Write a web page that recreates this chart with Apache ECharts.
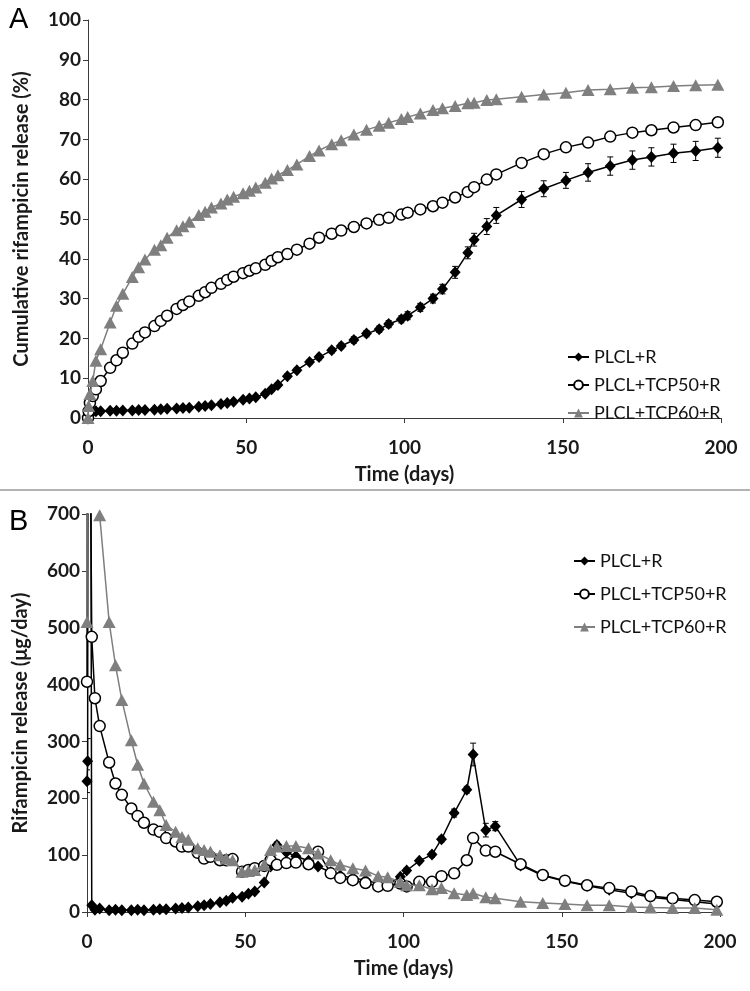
<!DOCTYPE html>
<html><head><meta charset="utf-8">
<script src="https://cdn.jsdelivr.net/npm/echarts/dist/echarts.min.js"></script>
<style>html,body{margin:0;padding:0;background:#fff}#c{width:750px;height:991px}</style>
</head><body><div id="c"></div>
<script>
// ---- data ----
const seriesNames = ['PLCL+R', 'PLCL+TCP50+R', 'PLCL+TCP60+R'];
const days = [0, 0.2, 0.6, 1.5, 2.5, 4, 7, 9, 11, 14, 16, 18, 21, 23, 25, 28, 30, 32, 35, 37, 39, 42, 44, 46, 49, 51,
  53, 56, 58, 60, 63, 66, 70, 73, 77, 80, 84, 88, 92, 95, 99, 101, 105, 109, 112, 116, 120, 122, 126, 129,
  137, 144, 151, 158, 165, 172, 178, 185, 192, 199];

// Panel A: cumulative release (%)
const cumPLCL = [0, 1.0, 1.5, 1.6, 1.7, 1.7, 1.8, 1.8, 1.9, 1.9, 2.0, 2.0, 2.1, 2.2, 2.3, 2.4, 2.5, 2.6, 2.8, 3.0, 3.2, 3.5, 3.8, 4.1, 4.6, 4.9,
  5.2, 6.1, 7.2, 8.3, 10.5, 12.0, 14.1, 15.3, 17.0, 18.1, 19.6, 21.2, 22.3, 23.6, 24.8, 25.7, 27.8, 30.0, 32.4, 36.6, 41.5, 44.8, 48.1, 50.9,
  54.9, 57.6, 59.7, 61.7, 63.3, 64.8, 65.6, 66.5, 67.1, 67.9];
const cumPLCLErr = [0, 0.3, 0.3, 0.3, 0.3, 0.3, 0.3, 0.3, 0.3, 0.3, 0.3, 0.3, 0.3, 0.3, 0.3, 0.3, 0.3, 0.3, 0.3, 0.3, 0.4, 0.4, 0.4, 0.4, 0.4, 0.4,
  0.5, 0.5, 0.5, 0.5, 0.6, 0.6, 0.6, 0.7, 0.7, 0.7, 0.8, 0.8, 0.8, 0.9, 0.9, 1.0, 1.0, 1.1, 1.2, 1.5, 1.5, 1.6, 2.0, 2.0,
  2.0, 2.0, 2.0, 2.2, 2.3, 2.3, 2.3, 2.3, 2.4, 2.4];
const cumTCP50 = [0, 1.7, 3.8, 5.5, 7.2, 9.3, 12.6, 14.5, 16.4, 18.7, 20.4, 21.5, 23.1, 24.4, 25.7, 27.4, 28.4, 29.3, 30.7, 31.6, 32.7, 33.7, 34.7, 35.5, 36.4, 37.0,
  37.6, 38.5, 39.5, 40.4, 41.2, 42.3, 43.8, 45.3, 46.3, 47.1, 48.0, 48.9, 49.8, 50.3, 51.1, 51.6, 52.4, 53.2, 54.1, 55.4, 56.8, 58.0, 59.9, 61.2,
  64.1, 66.3, 68.0, 69.2, 70.7, 71.7, 72.3, 73.0, 73.6, 74.3];
const cumTCP60 = [0, 3.0, 6.0, 9.3, 14.4, 17.3, 24.0, 28.2, 31.2, 35.4, 37.9, 39.8, 42.3, 43.4, 45.3, 47.2, 48.2, 49.3, 51.0, 51.8, 52.9, 53.9, 54.9, 55.6, 56.5, 57.1,
  57.9, 59.1, 60.2, 61.0, 62.3, 63.7, 65.8, 67.2, 68.8, 69.8, 71.2, 72.4, 73.4, 74.2, 75.1, 75.6, 76.5, 77.4, 77.8, 78.4, 79.1, 79.2, 79.9, 80.1,
  80.7, 81.3, 81.7, 82.4, 82.6, 83.0, 83.1, 83.4, 83.6, 83.7];

// Panel B: release rate (µg/day); values above 700 run off the top of the axis
const ratePLCL = [230, 265, 2500, 12, 4, 6, 3, 4, 3, 3, 4, 3, 4, 5, 5, 6, 7, 8, 10, 12, 14, 17, 20, 25, 27, 32,
  36, 52, 80, 118, 105, 98, 90, 80, 70, 64, 60, 56, 50, 48, 62, 73, 90, 101, 128, 174, 215, 277, 144, 151,
  82, 64, 54, 46, 39, 33, 26, 22, 18, 14];
const ratePLCLErr = [20, 40, 0, 3, 2, 2, 2, 2, 2, 2, 2, 2, 2, 2, 2, 2, 2, 2, 2, 2, 2, 2, 2, 3, 3, 3,
  3, 3, 4, 5, 4, 4, 4, 3, 3, 3, 3, 3, 3, 3, 3, 4, 4, 5, 5, 7, 6, 20, 12, 8,
  4, 3, 3, 3, 3, 3, 3, 3, 3, 3];
const rateTCP50 = [405, 1500, 1200, 484, 376, 327, 263, 226, 206, 182, 169, 157, 145, 141, 130, 124, 115, 115, 104, 94, 97, 91, 91, 93, 71, 74,
  77, 81, 91, 83, 86, 87, 84, 106, 68, 60, 56, 51, 45, 46, 50, 45, 53, 53, 63, 68, 91, 130, 108, 106,
  84, 65, 55, 47, 42, 36, 28, 24, 21, 18];
const rateTCP60 = [510, 1500, 1300, 1100, 900, 698, 510, 434, 373, 302, 259, 226, 194, 179, 153, 141, 132, 127, 112, 109, 106, 100, 94, 91, 71, 72,
  74, 83, 109, 115, 116, 116, 112, 103, 91, 83, 77, 73, 63, 61, 53, 47, 47, 40, 42, 33, 30, 33, 26, 24,
  18, 16, 14, 12, 12, 9, 8, 7, 7, 4];

const xTickInterval = 50;
const yTopMax = 100, yTopInterval = 10;
const yBotMax = 700, yBotInterval = 100;

// ---- chart ----
const FONT = 'Lato';
const txt = '#1a1a1a';
const axisCol = '#3a3a3a';
const zip = (xs, ys) => xs.map((x, i) => [x, ys[i]]);
const zip3 = (xs, ys, es) => xs.map((x, i) => [x, ys[i], es[i]]);

function errRender(params, api) {
  const x = api.value(0), y = api.value(1), e = api.value(2);
  if (!e) return null;
  const t = api.coord([x, y + e]), b = api.coord([x, y - e]);
  const hw = 3, st = { stroke: '#000', lineWidth: 1 };
  return { type: 'group', children: [
    { type: 'line', shape: { x1: t[0], y1: t[1], x2: b[0], y2: b[1] }, style: st },
    { type: 'line', shape: { x1: t[0] - hw, y1: t[1], x2: t[0] + hw, y2: t[1] }, style: st },
    { type: 'line', shape: { x1: b[0] - hw, y1: b[1], x2: b[0] + hw, y2: b[1] }, style: st }
  ]};
}

function xAxis(gi) {
  return {
    gridIndex: gi, type: 'value', min: 0, max: 200, interval: xTickInterval,
    axisLine: { show: true, lineStyle: { color: axisCol, width: 1 } },
    axisTick: { show: true, length: 5, lineStyle: { color: axisCol } },
    splitLine: { show: false },
    axisLabel: { fontFamily: FONT, fontWeight: 'bold', fontSize: 19, color: txt, margin: 20 },
    name: 'Time (days)', nameLocation: 'middle', nameGap: 47,
    nameTextStyle: { fontFamily: FONT, fontWeight: 'bold', fontSize: 20, color: txt }
  };
}
function yAxis(gi, max, interval, name) {
  return {
    gridIndex: gi, type: 'value', min: 0, max: max, interval: interval,
    axisLine: { show: true, lineStyle: { color: axisCol, width: 1 } },
    axisTick: { show: true, length: 5, lineStyle: { color: axisCol } },
    splitLine: { show: false },
    axisLabel: { fontFamily: FONT, fontWeight: 'bold', fontSize: 19, color: txt, margin: 7 },
    name: name, nameLocation: 'middle', nameGap: 56, nameRotate: 90,
    nameTextStyle: { fontFamily: FONT, fontWeight: 'bold', fontSize: 20, color: txt }
  };
}
function lineSeries(gi, name, data) {
  const base = { type: 'line', name: name, xAxisIndex: gi, yAxisIndex: gi, data: data, clip: true,
    showAllSymbol: true, animation: false, z: 3 };
  if (name === seriesNames[0]) return Object.assign(base, {
    symbol: 'diamond', symbolSize: [11, 12],
    lineStyle: { color: '#000', width: 1.5 }, itemStyle: { color: '#000' } });
  if (name === seriesNames[1]) return Object.assign(base, {
    symbol: 'circle', symbolSize: 11, z: 4,
    lineStyle: { color: '#000', width: 1.5 }, itemStyle: { color: '#fff', borderColor: '#000', borderWidth: 1.5 } });
  return Object.assign(base, {
    symbol: 'triangle', symbolSize: [13, 12], z: 5,
    lineStyle: { color: '#7f7f7f', width: 1.5 }, itemStyle: { color: '#7f7f7f' } });
}
function errSeries(gi, data) {
  return { type: 'custom', xAxisIndex: gi, yAxisIndex: gi, data: data, renderItem: errRender,
    clip: true, animation: false, z: 2, silent: true };
}
const legendText = { fontFamily: FONT, fontSize: 18, color: '#111' };

const chart = echarts.init(document.getElementById('c'), null, { renderer: 'canvas' });
chart.setOption({
  backgroundColor: '#fff',
  animation: false,
  grid: [
    { left: 88, right: 29, top: 20, height: 398 },
    { left: 87, right: 30, top: 514, height: 398 }
  ],
  xAxis: [xAxis(0), xAxis(1)],
  yAxis: [
    yAxis(0, yTopMax, yTopInterval, 'Cumulative rifampicin release (%)'),
    yAxis(1, yBotMax, yBotInterval, 'Rifampicin release (μg/day)')
  ],
  legend: [
    { data: seriesNames, orient: 'vertical', left: 562, top: 343, itemGap: 10, itemWidth: 21, itemHeight: 11,
      textStyle: legendText, selectedMode: false },
    { data: seriesNames, orient: 'vertical', left: 568, top: 547, itemGap: 15, itemWidth: 21, itemHeight: 11,
      textStyle: legendText, selectedMode: false }
  ],
  graphic: [
    { type: 'line', shape: { x1: 0, y1: 490, x2: 750, y2: 490 }, style: { stroke: '#9a9a9a', lineWidth: 1.5 } },
    { type: 'text', left: 9, top: 5, style: { text: 'A', fontFamily: 'Liberation Sans', fontSize: 29, fill: '#000' } },
    { type: 'text', left: 9, top: 507, style: { text: 'B', fontFamily: 'Liberation Sans', fontSize: 29, fill: '#000' } }
  ],
  series: [
    errSeries(0, zip3(days, cumPLCL, cumPLCLErr)),
    lineSeries(0, seriesNames[0], zip(days, cumPLCL)),
    lineSeries(0, seriesNames[1], zip(days, cumTCP50)),
    lineSeries(0, seriesNames[2], zip(days, cumTCP60)),
    errSeries(1, zip3(days, ratePLCL, ratePLCLErr)),
    lineSeries(1, seriesNames[0], zip(days, ratePLCL)),
    lineSeries(1, seriesNames[1], zip(days, rateTCP50)),
    lineSeries(1, seriesNames[2], zip(days, rateTCP60))
  ]
});
</script></body></html>
